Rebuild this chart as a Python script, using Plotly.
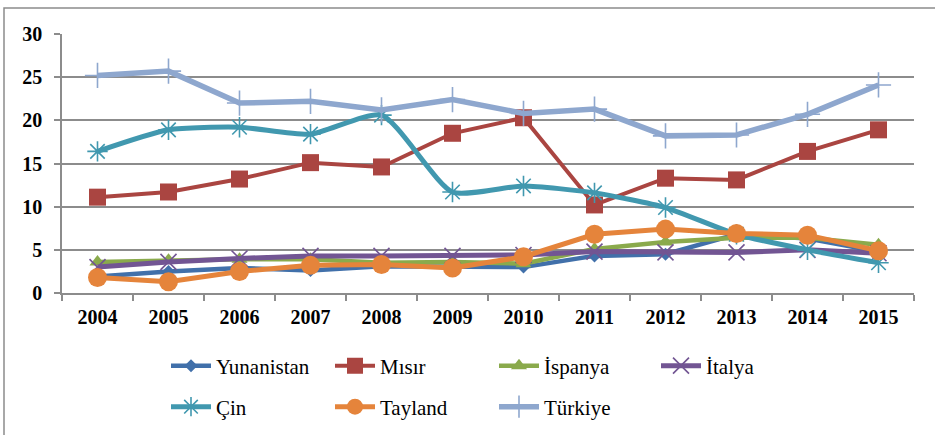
import plotly.graph_objects as go

years = ["2004", "2005", "2006", "2007", "2008", "2009", "2010", "2011", "2012", "2013", "2014", "2015"]
yunanistan = [1.9, 2.5, 2.9, 2.6, 3.1, 3.1, 3.0, 4.3, 4.5, 6.8, 6.3, 4.8]
misir = [11.1, 11.7, 13.2, 15.1, 14.6, 18.5, 20.3, 10.2, 13.3, 13.1, 16.4, 18.9]
ispanya = [3.6, 3.8, 3.9, 3.9, 3.5, 3.6, 3.4, 5.1, 5.9, 6.4, 6.4, 5.6]
italya = [3.0, 3.6, 4.0, 4.3, 4.3, 4.3, 4.4, 4.8, 4.7, 4.7, 5.0, 4.6]
cin = [16.4, 18.9, 19.2, 18.4, 20.6, 11.7, 12.4, 11.6, 9.9, 6.8, 5.0, 3.5]
tayland = [1.8, 1.3, 2.5, 3.2, 3.3, 2.9, 4.2, 6.8, 7.4, 6.9, 6.7, 4.9]
turkiye = [25.2, 25.7, 22.0, 22.2, 21.2, 22.4, 20.8, 21.3, 18.2, 18.3, 20.7, 24.1]

names = ["Yunanistan", "Mısır", "İspanya", "İtalya", "Çin", "Tayland", "Türkiye"]
series = [yunanistan, misir, ispanya, italya, cin, tayland, turkiye]
colors = ["#4170AA", "#AA4541", "#8AAA4C", "#725593", "#4198AF", "#E5843B", "#8EA7CE"]
symbols = ["diamond", "square", "triangle-up", "x-thin-open", "asterisk-open", "circle", "cross-thin-open"]
sizes = [10, 17, 14, 16, 17, 19, 18]
widths = [4.5, 4, 4.5, 5, 5, 5, 5.5]
shapes_line = ["linear", "linear", "linear", "linear", "spline", "linear", "linear"]

FONT = "Liberation Serif, Times New Roman, serif"

PL, PR, PT, PB = 62, 914, 34, 293
def px_x(p):
    return (p - PL) / (PR - PL)
def px_y(p):
    return (PB - p) / (PB - PT)

legend_pos = [(166, 366), (330, 366), (494, 366), (656, 366),
              (166, 407), (330, 407), (494, 407)]

fig = go.Figure()
layout_legends = {}
for i, (n, s, c, sym, sz, w, ls) in enumerate(zip(names, series, colors, symbols, sizes, widths, shapes_line)):
    lname = "legend" if i == 0 else f"legend{i+1}"
    thin = sym.endswith("open")
    fig.add_trace(go.Scatter(
        x=years, y=s, name=n, mode="lines+markers",
        line=dict(color=c, width=w, shape=ls, smoothing=0.6 if ls == "spline" else None),
        marker=dict(symbol=sym, size=sz, color=c,
                    line=dict(color=c, width=1.6 if thin else 0)),
        legend=lname,
    ))
    lx, ly = legend_pos[i]
    layout_legends[lname] = dict(
        x=px_x(lx), y=px_y(ly), xanchor="left", yanchor="middle",
        font=dict(family=FONT, size=21, color="black"),
        bgcolor="rgba(0,0,0,0)", borderwidth=0, itemwidth=40,
    )

fig.update_layout(
    width=935, height=435,
    margin=dict(l=PL, r=935 - PR, t=PT, b=435 - PB, autoexpand=False),
    paper_bgcolor="white", plot_bgcolor="white",
    font=dict(family=FONT),
    showlegend=True,
    **layout_legends,
)
fig.update_xaxes(
    type="category", range=[-0.5, 11.5], tickson="boundaries", showgrid=False,
    showline=True, linecolor="#8c8c8c", linewidth=1.5,
    ticks="outside", ticklen=6, tickcolor="#8c8c8c", tickwidth=1.5,
    tickfont=dict(family=FONT, size=20, color="black", weight="bold"),
    ticklabelstandoff=5, automargin=False,
)
fig.update_yaxes(
    range=[0, 30], dtick=5, showgrid=True, gridcolor="#8c8c8c", gridwidth=1.5,
    showline=True, linecolor="#8c8c8c", linewidth=1.5, zeroline=False,
    ticks="outside", ticklen=6, tickcolor="#8c8c8c", tickwidth=1.5,
    tickfont=dict(family=FONT, size=20, color="black", weight="bold"),
    ticklabelstandoff=8, automargin=False,
)
fig.add_shape(type="rect", xref="paper", yref="paper",
              x0=px_x(4), x1=px_x(1000), y0=px_y(600), y1=px_y(8),
              line=dict(color="#8c8c8c", width=1.5), fillcolor="rgba(0,0,0,0)", layer="below")

fig.write_html("out.html", config={"displayModeBar": False},
               post_script="document.body.style.margin='0';")
